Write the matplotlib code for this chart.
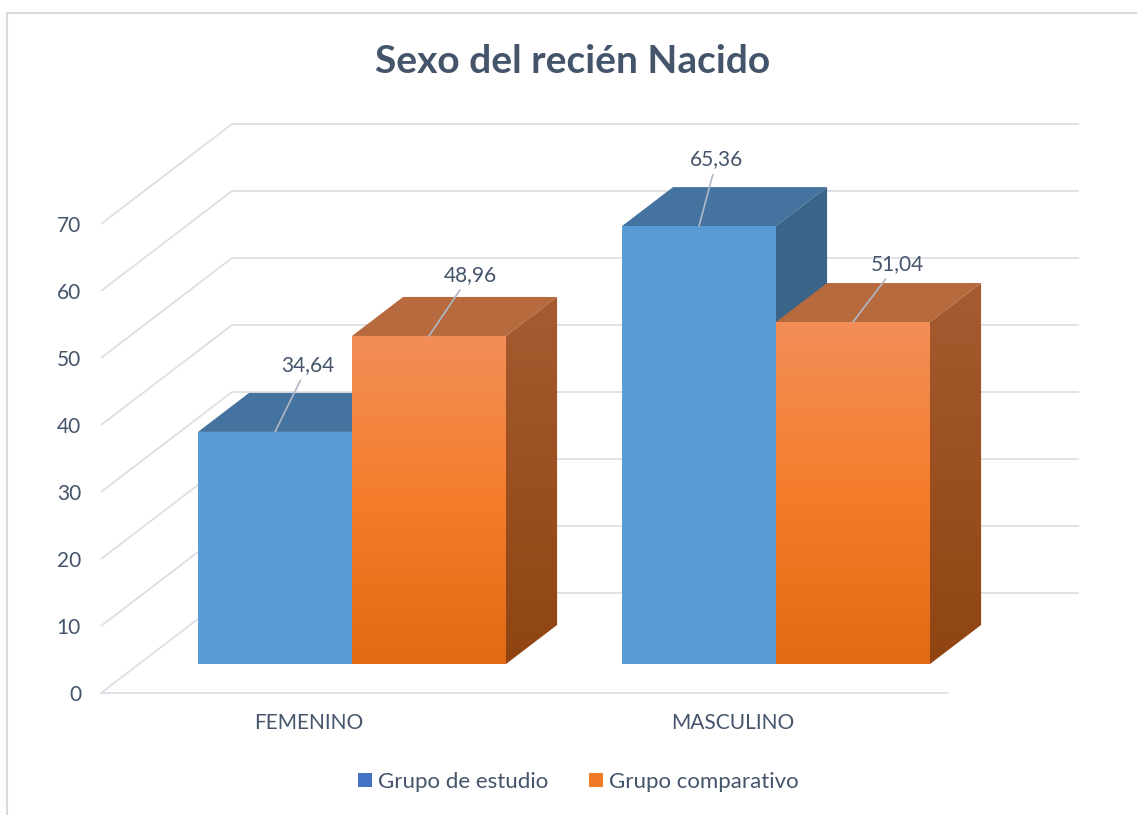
import numpy as np
import matplotlib
matplotlib.use('Agg')
import matplotlib.pyplot as plt
import matplotlib.transforms as mtransforms
from matplotlib.patches import Polygon, Patch
from matplotlib.lines import Line2D
from matplotlib.colors import LinearSegmentedColormap

# ---------------- data ----------------
title = 'Sexo del recién Nacido'
categories = ['FEMENINO', 'MASCULINO']
series_names = ['Grupo de estudio', 'Grupo comparativo']
estudio = [34.64, 65.36]
comparativo = [48.96, 51.04]
yticks = [0, 10, 20, 30, 40, 50, 60, 70]

# ---------------- style ----------------
plt.rcParams['font.family'] = ['Lato', 'DejaVu Sans']
TXT = '#44546A'
GRID = '#DCDFE5'
BLUE_FRONT, BLUE_TOP, BLUE_SIDE = '#5B9BD5', '#44739F', '#3B6489'
OR_FRONT = ['#F28E58', '#F47D2B', '#E26A12']
OR_TOP = '#B86A3F'
OR_SIDE = ['#A65B31', '#8F4412']

W, H, DPI = 1137, 815, 100
fig = plt.figure(figsize=(W / DPI, H / DPI), dpi=DPI)
fig.patch.set_facecolor('white')

# front plane of the 3-D box (pixels) and projection parameters
L_px, R_px, B_px, T_px = 101, 1077, 693, 124
PXU = 6.7          # pixels per value unit
CAT_PX = 424       # pixels between categories
C0_PX = 314        # pixel x of first category centre on the front plane
FLOOR_R_PX = 948
ax = fig.add_axes([L_px / W, 1 - B_px / H, (R_px - L_px) / W, (B_px - T_px) / H])
XLIM = ((L_px - C0_PX) / CAT_PX, (R_px - C0_PX) / CAT_PX)
YLIM = (0, (B_px - T_px) / PXU)

DX, DY = 131 / CAT_PX, 100 / PXU   # full depth offset in data units
d0, d1 = 0.29, 0.68                # bar depth span (fraction of full depth)
bw = 154 / CAT_PX                  # bar width

# gridlines: side wall + back wall
xl = XLIM[0]
xr = (FLOOR_R_PX - C0_PX) / CAT_PX
for v in yticks:
    ax.plot([xl, xl + DX, xr + DX], [v, v + DY, v + DY], color=GRID, lw=1.3,
            clip_on=False, zorder=1, solid_capstyle='butt')
ax.plot([xl, xr], [0, 0], color=GRID, lw=1.3, clip_on=False, zorder=1)


def gradient_clip(patch, colors, zo, bounds):
    cmap = LinearSegmentedColormap.from_list('g', colors)
    grad = np.linspace(0, 1, 256).reshape(-1, 1)
    x0, x1, y0, y1 = bounds
    im = ax.imshow(grad, cmap=cmap, extent=[x0, x1, y0, y1], aspect='auto',
                   origin='upper', zorder=zo, interpolation='bilinear')
    im.set_clip_path(patch)


def box_faces(xleft, v):
    xrgt = xleft + bw
    top = [(xleft + d0 * DX, v + d0 * DY), (xrgt + d0 * DX, v + d0 * DY),
           (xrgt + d1 * DX, v + d1 * DY), (xleft + d1 * DX, v + d1 * DY)]
    side = [(xrgt + d0 * DX, d0 * DY), (xrgt + d1 * DX, d1 * DY),
            (xrgt + d1 * DX, v + d1 * DY), (xrgt + d0 * DX, v + d0 * DY)]
    return top, side


zo = 3
label_offsets = [[(33, 67), (41, 61)], [(18, 67), (44, 58)]]
for i, cat in enumerate(categories):
    # blue (study group)
    vb = estudio[i]
    xb = i - bw
    top, side = box_faces(xb, vb)
    ax.add_patch(Polygon(top, closed=True, facecolor=BLUE_TOP, edgecolor='none', zorder=zo))
    ax.add_patch(Polygon(side, closed=True, facecolor=BLUE_SIDE, edgecolor='none', zorder=zo))
    ax.bar(xb + d0 * DX, vb, bottom=d0 * DY, width=bw, align='edge',
           color=BLUE_FRONT, edgecolor='none', zorder=zo + 0.5)
    zo += 1
    # orange (comparative group)
    vo = comparativo[i]
    xo = i
    top, side = box_faces(xo, vo)
    ax.add_patch(Polygon(top, closed=True, facecolor=OR_TOP, edgecolor='none', zorder=zo))
    sp = Polygon(side, closed=True, facecolor='none', edgecolor='none', zorder=zo)
    ax.add_patch(sp)
    gradient_clip(sp, OR_SIDE, zo, (xo + bw + d0 * DX, xo + bw + d1 * DX, d0 * DY, vo + d1 * DY))
    bars = ax.bar(xo + d0 * DX, vo, bottom=d0 * DY, width=bw, align='edge',
                  color='none', edgecolor='none', zorder=zo + 0.5)
    gradient_clip(bars.patches[0], OR_FRONT, zo + 0.5,
                  (xo + d0 * DX, xo + bw + d0 * DX, d0 * DY, vo + d0 * DY))
    zo += 1

    # data labels with leader lines
    for j, (xx, vv) in enumerate([(xb, vb), (xo, vo)]):
        anchor = (xx + bw / 2 + d0 * DX, vv + d0 * DY)
        ax.annotate(f'{vv:.2f}'.replace('.', ','), xy=anchor,
                    xytext=label_offsets[i][j], textcoords='offset pixels',
                    ha='center', va='center', fontsize=15, color=TXT, zorder=20,
                    arrowprops=dict(arrowstyle='-', color='#AEB8C6', lw=1.2,
                                    shrinkA=2, shrinkB=0))

ax.set_xlim(*XLIM)
ax.set_ylim(*YLIM)
ax.set_frame_on(False)
ax.set_xticks(range(len(categories)))
ax.set_xticklabels(categories)
ax.set_yticks(yticks)
ax.set_yticklabels([str(t) for t in yticks])
ax.tick_params(axis='x', length=0, pad=14.5, labelsize=15, labelcolor=TXT)
ax.tick_params(axis='y', length=0, pad=14.4, labelsize=15, labelcolor=TXT)
shift = mtransforms.ScaledTranslation(-5 / DPI, 0, fig.dpi_scale_trans)
for lbl in ax.get_xticklabels():
    lbl.set_transform(lbl.get_transform() + shift)

# title
fig.text(573 / W, 1 - 73 / H, title, ha='center', va='baseline',
         fontsize=28, fontweight='bold', color=TXT)

# legend
handles = [Patch(facecolor='#4472C4', edgecolor='none'),
           Patch(facecolor='#F07A28', edgecolor='none')]
fig.legend(handles, series_names, loc='center', bbox_to_anchor=(578 / W, 1 - 782 / H),
           ncol=2, frameon=False, fontsize=16, handlelength=0.63, handleheight=0.63,
           handletextpad=0.27, columnspacing=1.85, labelcolor=TXT)

# chart border (left and top visible)
fig.add_artist(Line2D([7 / W, 7 / W, 1], [0, 1 - 13 / H, 1 - 13 / H],
                      transform=fig.transFigure, color='#D9D9D9', lw=1.5))

fig.savefig('out.png', dpi=DPI, facecolor='white')
